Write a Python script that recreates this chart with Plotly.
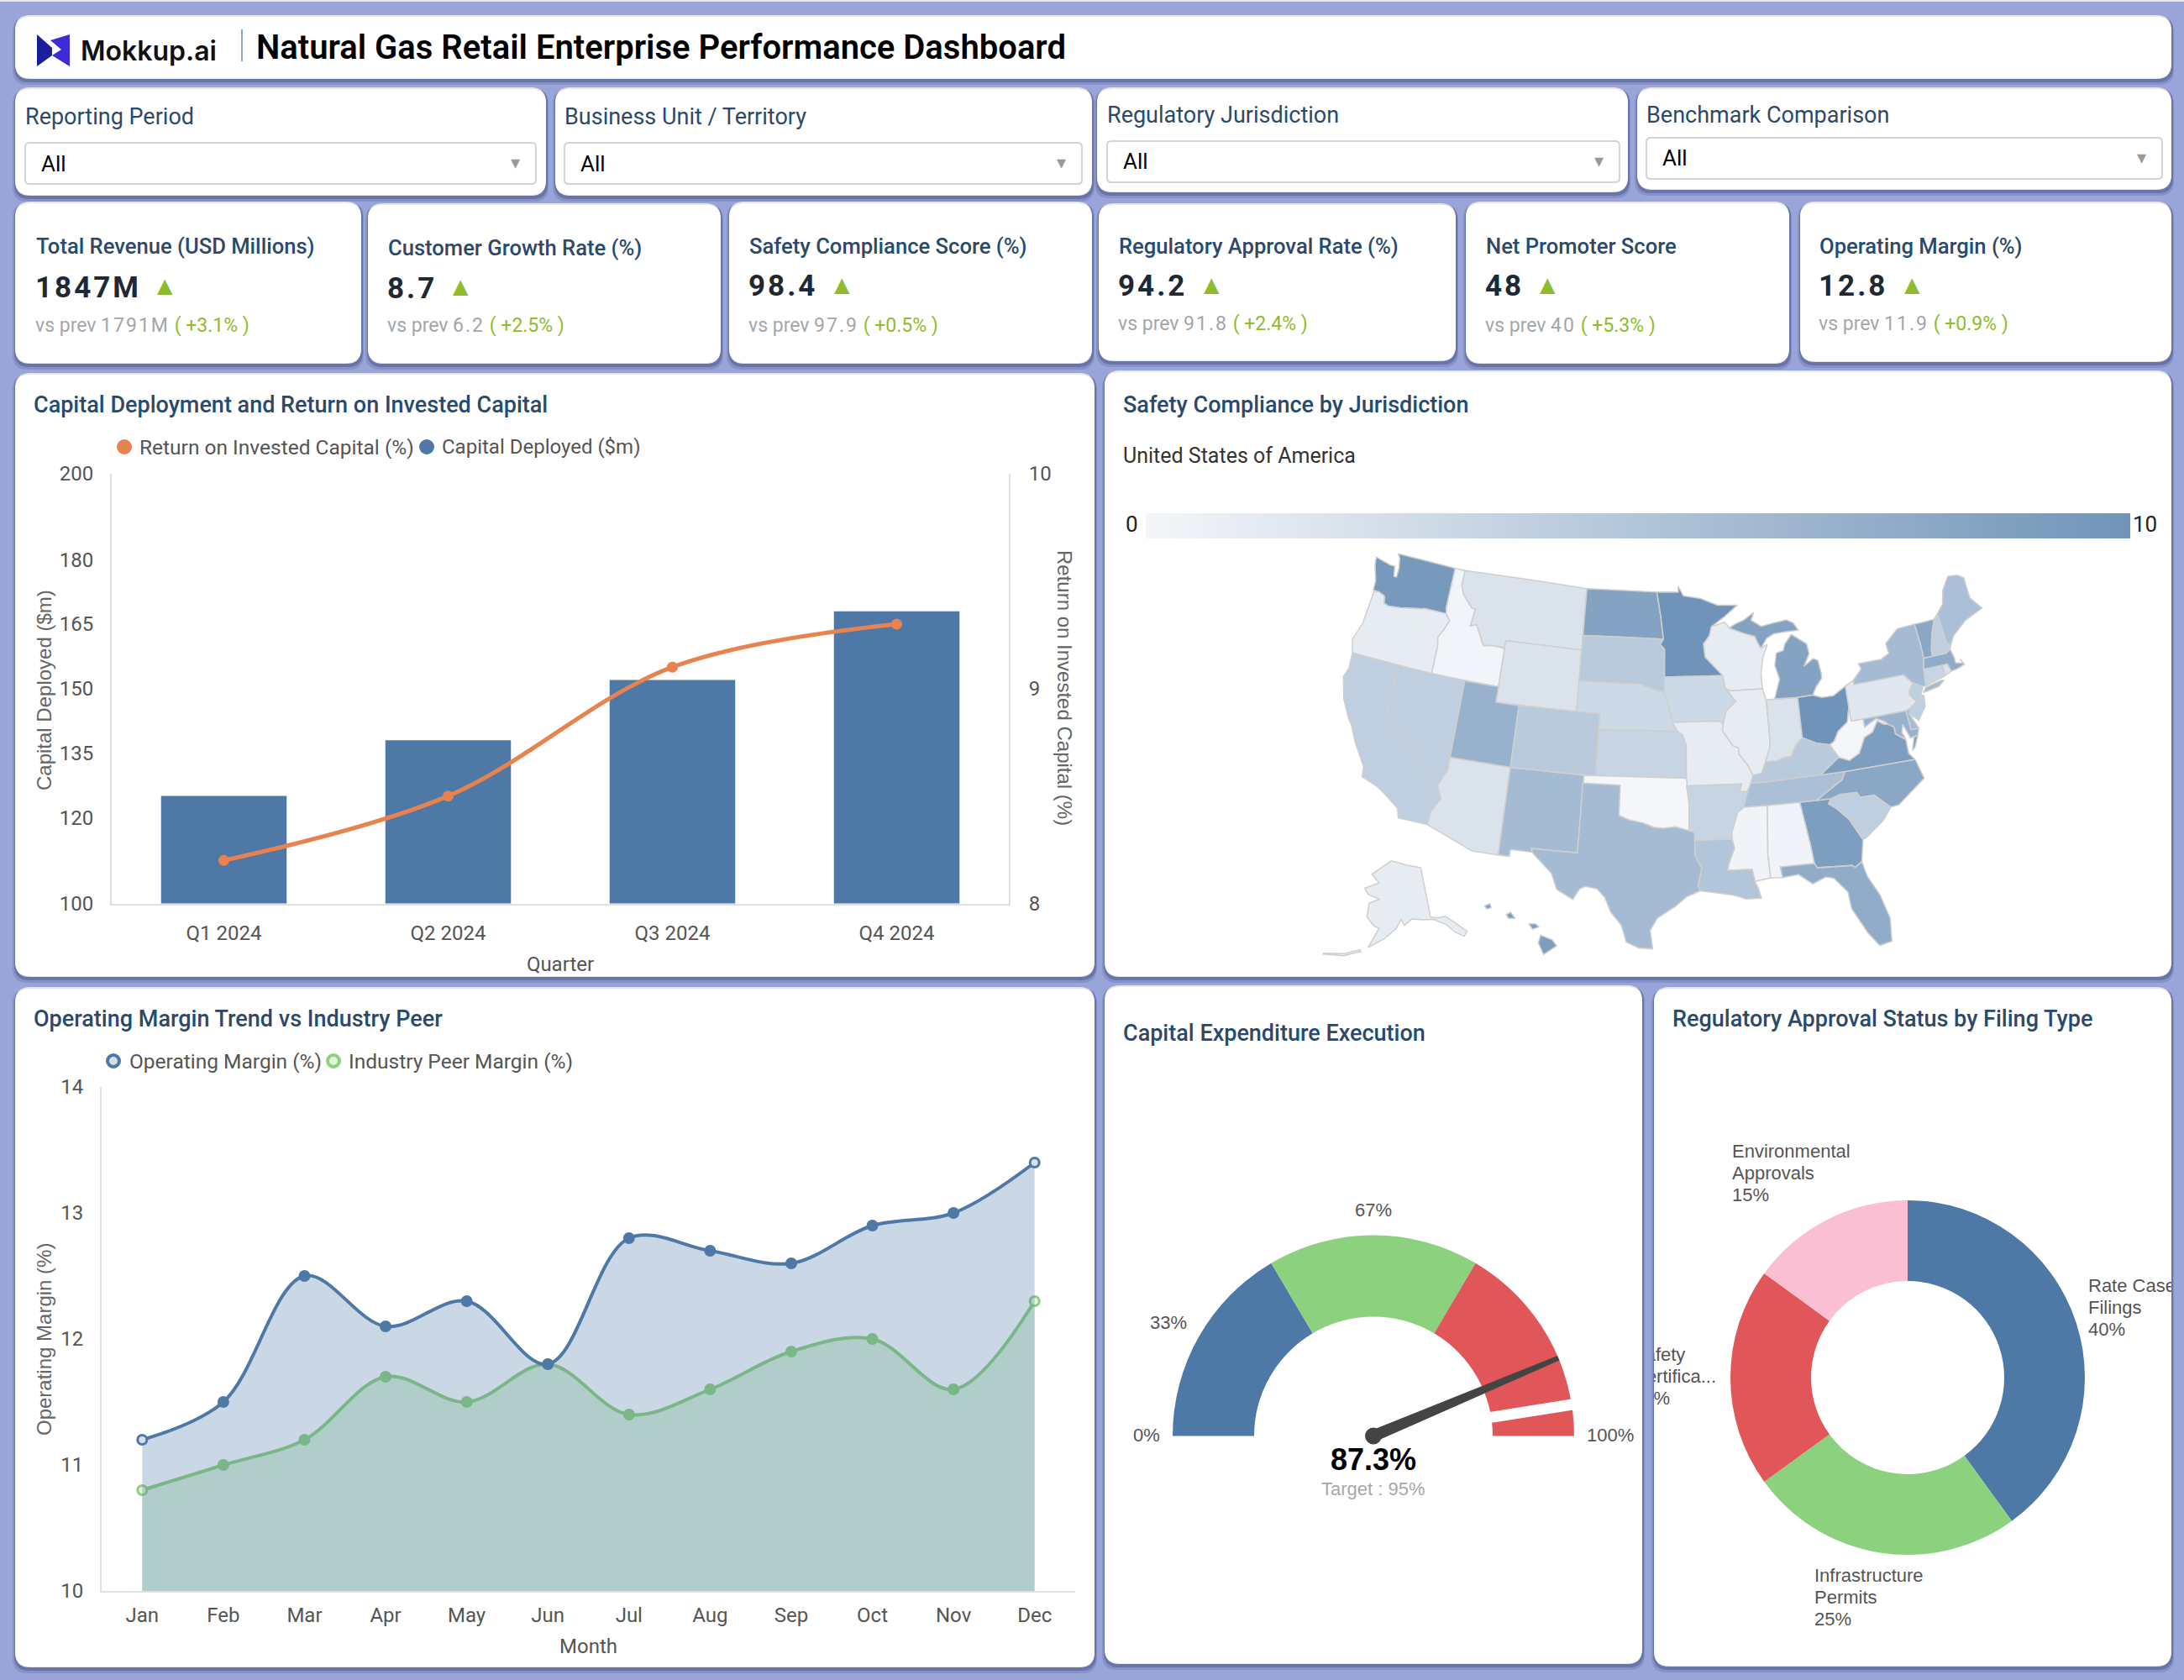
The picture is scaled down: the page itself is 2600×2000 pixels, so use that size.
import math
import plotly.graph_objects as go
from plotly.colors import sample_colorscale

W, H = 2600, 2000
BLUE, GREEN, RED, PINK, ORANGE = "#4e79a7", "#8cd17d", "#e15759", "#fabfd2", "#e8834f"
NAVY = "#2b4a6b"
FONT = "Roboto"
ARIAL = "Liberation Sans"

# data
filter_names = ["Reporting Period", "Business Unit / Territory", "Regulatory Jurisdiction", "Benchmark Comparison"]
kpi_names = ["Total Revenue (USD Millions)", "Customer Growth Rate (%)", "Safety Compliance Score (%)",
             "Regulatory Approval Rate (%)", "Net Promoter Score", "Operating Margin (%)"]
kpi_values = ["1847M", "8.7", "98.4", "94.2", "48", "12.8"]
kpi_prev = ["1791M", "6.2", "97.9", "91.8", "40", "11.9"]
kpi_delta = ["+3.1%", "+2.5%", "+0.5%", "+2.4%", "+5.3%", "+0.9%"]

quarters = ["Q1 2024", "Q2 2024", "Q3 2024", "Q4 2024"]
capital_deployed = [125, 138, 152, 168]
roic = [8.2, 8.5, 9.1, 9.3]

months = ["Jan", "Feb", "Mar", "Apr", "May", "Jun", "Jul", "Aug", "Sep", "Oct", "Nov", "Dec"]
op_margin = [11.2, 11.5, 12.5, 12.1, 12.3, 11.8, 12.8, 12.7, 12.6, 12.9, 13.0, 13.4]
peer_margin = [10.8, 11.0, 11.2, 11.7, 11.5, 11.8, 11.4, 11.6, 11.9, 12.0, 11.6, 12.3]

states = ["WA", "OR", "ID", "MT", "WY", "ND", "SD", "NE", "KS", "MN", "IA", "MO", "WI", "IL", "IN", "MI", "OH",
          "KY", "TN", "MS", "AL", "GA", "FL", "SC", "NC", "VA", "WV", "MD", "DE", "PA", "NJ", "NY", "CT", "RI",
          "MA", "VT", "NH", "ME", "CA", "NV", "UT", "AZ", "NM", "CO", "TX", "OK", "AR", "LA", "AK", "HI"]
state_scores = [9.5, 1, 0.2, 2, 2, 8.5, 4.5, 3, 3.5, 10, 3, 1, 1, 1, 2, 8.5, 10,
                4.5, 5.5, 0.3, 0.3, 9, 7.5, 4, 8, 9, 0, 7, 6, 1.5, 4, 6, 3.5, 2,
                7.5, 8, 4, 5.5, 4, 4, 7, 2, 6, 4.5, 6, 0, 3.5, 5, 1, 9]

capex_bands = [33, 34, 33]
capex_ticks = [0, 33, 67, 100]
capex_actual = 87.3
capex_target = 95

filing_types = ["Rate Case Filings", "Infrastructure Permits", "Safety Certifica...", "Environmental Approvals"]
filing_share = [40, 25, 20, 15]

# rough state outlines (lon, lat): the usual topojson needs the network
state_rings = {
    "WA": [[(-124.7, 48.38), (-123.2, 48.15), (-122.75, 48.15), (-122.55, 47.5), (-122.3, 47.5), (-122.3, 48.1), (-122.5, 48.75), (-122.76, 49), (-117.03, 49), (-117.04, 46.42), (-116.92, 45.99), (-118.98, 46), (-119.3, 45.93), (-121.2, 45.65), (-122.3, 45.55), (-122.75, 45.65), (-122.9, 46.1), (-123.5, 46.26), (-124.05, 46.27), (-124.1, 46.9), (-124.6, 47.9)]],
    "OR": [[(-124.55, 42.85), (-124.2, 42), (-117.03, 42), (-117.03, 43.83), (-117.2, 44.4), (-116.85, 44.9), (-116.46, 45.6), (-116.92, 45.99), (-118.98, 46), (-119.3, 45.93), (-121.2, 45.65), (-122.3, 45.55), (-122.75, 45.65), (-122.9, 46.1), (-123.5, 46.26), (-123.95, 46.2), (-124.1, 44)]],
    "ID": [[(-117.03, 49), (-116.05, 49), (-116.05, 48), (-115.7, 47.45), (-114.7, 46.7), (-114.35, 46.65), (-114.5, 45.55), (-113.95, 45.7), (-113.45, 45.05), (-113, 44.45), (-112.3, 44.55), (-111.5, 44.55), (-111.05, 44.48), (-111.05, 42), (-117.03, 42), (-117.03, 43.83), (-117.2, 44.4), (-116.85, 44.9), (-116.46, 45.6), (-116.92, 45.99), (-117.04, 46.42)]],
    "MT": [[(-116.05, 49), (-104.05, 49), (-104.05, 45), (-111.05, 45), (-111.05, 44.48), (-111.5, 44.55), (-112.3, 44.55), (-113, 44.45), (-113.45, 45.05), (-113.95, 45.7), (-114.5, 45.55), (-114.35, 46.65), (-114.7, 46.7), (-115.7, 47.45), (-116.05, 48)]],
    "WY": [[(-111.05, 45), (-104.05, 45), (-104.05, 41), (-111.05, 41)]],
    "ND": [[(-104.05, 49), (-97.23, 49), (-96.85, 47.5), (-96.56, 45.94), (-104.05, 45.94)]],
    "SD": [[(-104.05, 45.94), (-96.56, 45.94), (-96.85, 45.6), (-96.45, 45.3), (-96.45, 42.5), (-97.9, 42.8), (-98.5, 43), (-104.05, 43)]],
    "NE": [[(-104.05, 43), (-98.5, 43), (-97.9, 42.8), (-96.45, 42.5), (-96.1, 41.7), (-95.85, 41), (-95.31, 40), (-102.05, 40), (-102.05, 41), (-104.05, 41)]],
    "KS": [[(-102.05, 40), (-95.31, 40), (-94.9, 39.8), (-94.6, 39.1), (-94.62, 37), (-102.05, 37)]],
    "MN": [[(-97.23, 49), (-95.15, 49), (-95.15, 49.38), (-94.65, 48.75), (-93, 48.55), (-91.4, 48.07), (-89.5, 48), (-90.8, 47.3), (-92.05, 46.7), (-92.3, 46.1), (-92.85, 45.6), (-92.75, 44.75), (-91.22, 43.5), (-96.45, 43.5), (-96.45, 45.3), (-96.85, 45.6), (-96.56, 45.94), (-96.85, 47.5)]],
    "IA": [[(-96.45, 43.5), (-91.22, 43.5), (-91.1, 42.7), (-90.2, 41.8), (-91.1, 41.2), (-91.4, 40.4), (-91.75, 40.6), (-95.77, 40.58), (-95.85, 41), (-96.1, 41.7), (-96.45, 42.5)]],
    "MO": [[(-95.77, 40.58), (-91.75, 40.6), (-91.4, 40.4), (-91.5, 40), (-90.7, 39), (-90.2, 38.8), (-90.2, 38.4), (-89.55, 37.7), (-89.15, 37), (-89.4, 36.5), (-89.7, 36), (-90.35, 36), (-90.15, 36.5), (-94.62, 36.5), (-94.62, 37), (-94.6, 39.1), (-94.9, 39.8), (-95.31, 40)]],
    "WI": [[(-92.05, 46.7), (-90.8, 46.95), (-90.4, 46.55), (-89.1, 46.15), (-88.1, 45.9), (-87.8, 45.35), (-87.6, 45.1), (-87, 45.3), (-87.5, 44.5), (-87.8, 43.5), (-87.8, 42.49), (-90.65, 42.5), (-91.1, 42.7), (-91.22, 43.5), (-92.75, 44.75), (-92.85, 45.6), (-92.3, 46.1)]],
    "IL": [[(-90.65, 42.5), (-87.8, 42.49), (-87.55, 41.7), (-87.53, 39.35), (-87.6, 38.7), (-88.05, 37.8), (-88.45, 37.1), (-89.15, 37), (-89.55, 37.7), (-90.2, 38.4), (-90.2, 38.8), (-90.7, 39), (-91.5, 40), (-91.4, 40.4), (-91.1, 41.2), (-90.2, 41.8), (-91.1, 42.7)]],
    "IN": [[(-87.53, 41.75), (-87, 41.75), (-84.8, 41.7), (-84.8, 39.1), (-85.4, 38.7), (-85.9, 38), (-86.5, 37.95), (-87.1, 37.8), (-88.05, 37.8), (-87.6, 38.7), (-87.53, 39.35)]],
    "MI": [[(-86.8, 41.76), (-84.8, 41.7), (-83.45, 41.73), (-83.1, 42.2), (-82.5, 42.7), (-82.45, 43), (-82.6, 43.9), (-83, 44.05), (-83.9, 43.65), (-83.3, 44.4), (-83.4, 45.05), (-84.7, 45.78), (-85.4, 45.2), (-85.6, 44.8), (-86.25, 44.7), (-86.5, 43.9), (-86.2, 43), (-86.6, 42.2)],
           [(-90.4, 46.55), (-89.1, 46.15), (-88.1, 45.9), (-87.8, 45.35), (-87.6, 45.1), (-87, 45.7), (-86.3, 45.95), (-85, 46), (-84, 46), (-84.4, 46.5), (-85, 46.75), (-86.2, 46.65), (-87.4, 46.5), (-88.3, 46.95), (-88, 47.45), (-89, 47), (-89.8, 46.8)]],
    "OH": [[(-84.8, 41.7), (-83.45, 41.73), (-82.7, 41.5), (-81.7, 41.5), (-80.52, 42), (-80.52, 40.64), (-80.85, 39.7), (-81.75, 39.2), (-82.2, 38.6), (-82.6, 38.42), (-83.7, 38.65), (-84.8, 39.1)]],
    "KY": [[(-89.4, 36.5), (-89.15, 37), (-88.45, 37.1), (-88.05, 37.8), (-87.1, 37.8), (-86.5, 37.95), (-85.9, 38), (-85.4, 38.7), (-84.8, 39.1), (-83.7, 38.65), (-82.6, 38.42), (-82, 37.55), (-83.67, 36.6), (-88.07, 36.5)]],
    "TN": [[(-89.4, 36.5), (-88.07, 36.5), (-83.67, 36.6), (-81.68, 36.59), (-82, 36.1), (-84.3, 35), (-85.6, 35), (-88.2, 35), (-90.1, 35), (-89.7, 36)]],
    "MS": [[(-90.1, 35), (-88.2, 35), (-88.47, 31.9), (-88.4, 30.35), (-89.6, 30.2), (-89.75, 31), (-91.6, 31), (-91.5, 31.4), (-91, 32.4), (-91.15, 33), (-91.15, 33.4), (-90.6, 34.7)]],
    "AL": [[(-88.2, 35), (-85.6, 35), (-85.15, 32.3), (-85, 31), (-87.6, 31), (-87.5, 30.3), (-88.4, 30.35), (-88.47, 31.9)]],
    "GA": [[(-85.6, 35), (-83.1, 35), (-83.35, 34.7), (-82.75, 34.3), (-81.9, 33.5), (-81.1, 32.1), (-81.45, 30.7), (-82, 30.4), (-82.2, 30.55), (-84.85, 30.7), (-85, 31), (-85.15, 32.3)]],
    "FL": [[(-87.5, 30.3), (-87.6, 31), (-85, 31), (-84.85, 30.7), (-82.2, 30.55), (-82, 30.4), (-81.45, 30.7), (-81.2, 29.7), (-80.5, 28.4), (-80.05, 26.8), (-80.2, 25.3), (-81.1, 25.15), (-81.8, 26.1), (-82.7, 27.8), (-82.8, 28.9), (-83.7, 29.9), (-84.3, 30.05), (-85.3, 29.7), (-86.3, 30.4)]],
    "SC": [[(-83.35, 34.7), (-83.1, 35), (-82.3, 35.2), (-81, 35.15), (-80.8, 34.82), (-79.67, 34.8), (-78.55, 33.86), (-79.3, 33.1), (-80.8, 32.2), (-81.1, 32.1), (-81.9, 33.5), (-82.75, 34.3)]],
    "NC": [[(-84.3, 35), (-83.1, 35), (-82.3, 35.2), (-81, 35.15), (-80.8, 34.82), (-79.67, 34.8), (-78.55, 33.86), (-77.9, 33.9), (-76.5, 34.7), (-75.5, 35.25), (-75.9, 36.55), (-81.68, 36.59), (-82, 36.1)]],
    "VA": [[(-83.67, 36.6), (-81.68, 36.59), (-75.9, 36.55), (-76.3, 37), (-76.3, 37.9), (-77.05, 38.4), (-77.05, 38.85), (-77.5, 39.1), (-77.85, 39.15), (-78.35, 39.45), (-78.9, 38.8), (-79.65, 38.55), (-80.3, 37.6), (-81.2, 37.25), (-82, 37.55)],
           [(-75.95, 37.15), (-75.6, 37.95), (-75.25, 38.03), (-75.7, 37.3)]],
    "WV": [[(-82.6, 38.42), (-82, 37.55), (-81.2, 37.25), (-80.3, 37.6), (-79.65, 38.55), (-78.9, 38.8), (-78.35, 39.45), (-77.85, 39.15), (-77.75, 39.33), (-78.4, 39.62), (-79.48, 39.2), (-79.48, 39.72), (-80.52, 39.72), (-80.52, 40.64), (-80.85, 39.7), (-81.75, 39.2), (-82.2, 38.6)]],
    "MD": [[(-79.48, 39.72), (-75.79, 39.72), (-75.7, 38.46), (-75.05, 38.45), (-75.25, 38.03), (-75.9, 37.95), (-76.3, 38.9), (-76.5, 38.4), (-76.3, 37.95), (-77.05, 38.4), (-77.05, 38.85), (-77.5, 39.1), (-77.75, 39.33), (-78.4, 39.62), (-79.48, 39.2)]],
    "DE": [[(-75.79, 39.72), (-75.41, 39.8), (-75.55, 39.45), (-75.05, 38.45), (-75.7, 38.46)]],
    "PA": [[(-80.52, 42), (-79.76, 42.27), (-79.76, 42), (-75.35, 42), (-74.7, 41.36), (-75.1, 40.95), (-75.2, 40.65), (-74.72, 40.15), (-75.41, 39.8), (-75.79, 39.72), (-80.52, 39.72)]],
    "NJ": [[(-74.7, 41.36), (-73.9, 41), (-74.25, 40.5), (-74, 40.4), (-74.1, 39.75), (-74.9, 38.95), (-75.55, 39.45), (-75.41, 39.8), (-74.72, 40.15), (-75.2, 40.65), (-75.1, 40.95)]],
    "NY": [[(-79.76, 42.27), (-78.9, 42.9), (-79.05, 43.27), (-77, 43.27), (-76.2, 43.55), (-76.3, 44.2), (-75, 44.98), (-73.35, 45.01), (-73.25, 43.6), (-73.27, 42.75), (-73.5, 42.05), (-73.65, 41), (-73.9, 41), (-74.7, 41.36), (-75.35, 42), (-79.76, 42)],
           [(-74, 40.6), (-73.7, 40.9), (-72.3, 41.1), (-72, 41.05), (-72.6, 40.75)]],
    "CT": [[(-73.5, 42.05), (-71.8, 42.02), (-71.85, 41.32), (-73.65, 41)]],
    "RI": [[(-71.8, 42.02), (-71.38, 42.02), (-71.2, 41.5), (-71.85, 41.32)]],
    "MA": [[(-73.5, 42.05), (-73.27, 42.75), (-71.3, 42.7), (-70.8, 42.87), (-70.65, 42.3), (-70.65, 41.95), (-70, 41.8), (-70.2, 42.08), (-69.95, 41.7), (-70.65, 41.55), (-71.2, 41.5), (-71.38, 42.02), (-71.8, 42.02)]],
    "VT": [[(-73.35, 45.01), (-71.5, 45.01), (-72.05, 44.1), (-72.45, 43.1), (-72.46, 42.73), (-73.27, 42.75), (-73.25, 43.6)]],
    "NH": [[(-71.5, 45.01), (-71.08, 45.3), (-70.98, 43.4), (-70.7, 43.07), (-70.8, 42.87), (-71.3, 42.7), (-72.46, 42.73), (-72.45, 43.1), (-72.05, 44.1)]],
    "ME": [[(-71.08, 45.3), (-70.4, 45.8), (-70, 46.7), (-69.2, 47.45), (-68.3, 47.35), (-67.8, 47.07), (-67.8, 45.7), (-67, 44.85), (-68.8, 44.4), (-70.2, 43.65), (-70.7, 43.07), (-70.98, 43.4)]],
    "CA": [[(-124.2, 42), (-120, 42), (-120, 39), (-114.6, 35.1), (-114.15, 34.27), (-114.72, 33.4), (-114.8, 32.5), (-117.1, 32.53), (-117.3, 33.1), (-118.4, 33.75), (-119.2, 34.15), (-120.6, 34.55), (-120.7, 35.2), (-121.9, 36.6), (-122.5, 37.5), (-123, 38), (-123.75, 39), (-124.35, 40.4), (-124.1, 41)]],
    "NV": [[(-120, 42), (-114.05, 42), (-114.05, 36.2), (-114.6, 35.1), (-120, 39)]],
    "UT": [[(-114.05, 42), (-111.05, 42), (-111.05, 41), (-109.05, 41), (-109.05, 37), (-114.05, 37)]],
    "AZ": [[(-114.05, 37), (-109.05, 37), (-109.05, 31.33), (-111.07, 31.33), (-114.8, 32.5), (-114.72, 33.4), (-114.15, 34.27), (-114.6, 35.1), (-114.05, 36.2)]],
    "NM": [[(-109.05, 37), (-103, 37), (-103.06, 32), (-106.62, 32), (-106.53, 31.78), (-108.2, 31.78), (-108.2, 31.33), (-109.05, 31.33)]],
    "CO": [[(-109.05, 41), (-102.05, 41), (-102.05, 37), (-109.05, 37)]],
    "TX": [[(-106.62, 32), (-103.06, 32), (-103.04, 36.5), (-100, 36.5), (-100, 34.56), (-99.2, 34.3), (-98.1, 34.13), (-97.2, 33.85), (-96.5, 33.8), (-95.5, 33.9), (-94.48, 33.64), (-94.04, 33.55), (-94.04, 32), (-93.55, 31.2), (-93.85, 30.1), (-93.7, 29.75), (-94.7, 29.4), (-95.6, 28.75), (-96.9, 28), (-97.4, 27.2), (-97.2, 26), (-98.2, 26.05), (-99.1, 26.4), (-99.5, 27.5), (-100.3, 28.3), (-100.8, 29.25), (-101.4, 29.77), (-102.3, 29.88), (-102.7, 29.7), (-103.15, 28.98), (-104.4, 29.55), (-104.9, 30.55), (-106.5, 31.75)]],
    "OK": [[(-103, 37), (-94.62, 37), (-94.43, 35.4), (-94.48, 33.64), (-95.5, 33.9), (-96.5, 33.8), (-97.2, 33.85), (-98.1, 34.13), (-99.2, 34.3), (-100, 34.56), (-100, 36.5), (-103, 36.5)]],
    "AR": [[(-94.62, 36.5), (-90.15, 36.5), (-90.35, 36), (-89.7, 36), (-90.1, 35), (-90.6, 34.7), (-91.15, 33.4), (-91.15, 33), (-94.04, 33), (-94.04, 33.55), (-94.48, 33.64), (-94.43, 35.4)]],
    "LA": [[(-94.04, 33), (-91.15, 33), (-91, 32.4), (-91.5, 31.4), (-91.6, 31), (-89.75, 31), (-89.6, 30.2), (-89.4, 29.8), (-89.2, 29.1), (-90.3, 29.1), (-91.3, 29.4), (-92.2, 29.55), (-93.7, 29.75), (-93.85, 30.1), (-93.55, 31.2), (-94.04, 32)]],
    "AK": [[(-141, 69.6), (-141, 60.3), (-139, 59.9), (-135.5, 59.7), (-130, 55.9), (-131.5, 55.2), (-134, 56.5), (-136, 58.2), (-140, 59.7), (-144, 60), (-148, 60.4), (-151, 59.3), (-152, 60.5), (-154, 58.7), (-158, 56.8), (-163, 54.9), (-160, 58.7), (-162, 59), (-165, 60.5), (-165, 63), (-161, 64), (-166, 64.6), (-168, 65.6), (-162, 67), (-166, 68.4), (-156.6, 71.3), (-148, 70.4)],
           [(-176, 51.8), (-170, 52.6), (-165, 54), (-165.5, 54.3), (-170, 53), (-176, 52)]],
    "HI": [[(-155.9, 20.2), (-155.1, 19.9), (-154.8, 19.5), (-155.7, 18.95), (-156.05, 19.7)],
           [(-156.7, 20.95), (-156.25, 20.95), (-156, 20.75), (-156.45, 20.6)],
           [(-158.25, 21.55), (-157.95, 21.7), (-157.65, 21.3), (-158.1, 21.3)],
           [(-159.75, 22.1), (-159.4, 22.25), (-159.3, 22), (-159.6, 21.9)]],
}


def px(x):
    return x / W


def py(y):
    return 1 - y / H


def rounded(x0, y0, x1, y1, r):
    a, b, c, d = px(x0), py(y0), px(x1), py(y1)
    rx, ry = r / W, r / H
    return (f"M{a + rx},{b} L{c - rx},{b} Q{c},{b} {c},{b - ry} L{c},{d + ry} Q{c},{d} {c - rx},{d} "
            f"L{a + rx},{d} Q{a},{d} {a},{d + ry} L{a},{b - ry} Q{a},{b} {a + rx},{b} Z")


def clockwise(ring):
    # d3 reads a counter-clockwise ring as the rest of the globe
    pts = list(ring)
    area = sum((b[0] - a[0]) * (b[1] + a[1]) for a, b in zip(pts, pts[1:] + pts[:1]))
    return pts if area > 0 else pts[::-1]


shapes = []
annotations = []


def add_path(path, fill, layer="below", line_color=None, line_width=0):
    shapes.append(dict(type="path", path=path, xref="paper", yref="paper", fillcolor=fill, layer=layer,
                       line=dict(color=line_color or "rgba(0,0,0,0)", width=line_width)))


def card(x0, y0, x1, y1, r=18):
    add_path(rounded(x0 - 3, y0 + 2, x1 + 3, y1 + 7, r), "rgba(70,80,135,0.22)")
    add_path(rounded(x0 - 1, y0 + 1, x1 + 2, y1 + 4, r), "rgba(70,80,135,0.45)")
    add_path(rounded(x0, y0, x1, y1, r), "#e6e6e6")
    add_path(rounded(x0, y0 + 2, x1, y1 - 1, r), "#ffffff")


def txt(x, y, text, size, color="#555555", anchor="left", weight=None, family=FONT, angle=0):
    font = dict(family=family, size=size, color=color)
    if weight:
        font["weight"] = weight
    if anchor == "left":
        x -= 1.5
    annotations.append(dict(x=px(x), y=py(y), xref="paper", yref="paper", text=text, showarrow=False, font=font,
                            xanchor=anchor, yanchor="middle", align=anchor, textangle=angle))


def dot(x, y, r, fill, line_color=None, line_width=0, layer="above"):
    shapes.append(dict(type="circle", xref="paper", yref="paper", x0=px(x - r), x1=px(x + r), y0=py(y + r),
                       y1=py(y - r), fillcolor=fill, layer=layer,
                       line=dict(color=line_color or "rgba(0,0,0,0)", width=line_width)))


# top strip and header
shapes.append(dict(type="rect", xref="paper", yref="paper", x0=0, x1=1, y0=py(2), y1=1, fillcolor="#e9e9e9",
                   layer="below", line=dict(width=0)))
card(18, 18, 2585, 94)
add_path(f"M{px(44)},{py(41)} L{px(62)},{py(57)} L{px(62)},{py(66)} L{px(44)},{py(79)} Z", "#1c1f9c")
add_path(f"M{px(83)},{py(41)} L{px(83)},{py(79)} L{px(62)},{py(66)} L{px(73)},{py(59)} L{px(60)},{py(48)} Z", "#3d2bd8")
txt(95, 60, "Mokkup.ai", 32, "#111111", weight=600, family="Inter")
shapes.append(dict(type="line", xref="paper", yref="paper", x0=px(288), x1=px(288), y0=py(35), y1=py(73),
                   line=dict(color="#8fa6c4", width=2), layer="below"))
txt(304.5, 56, "Natural Gas Retail Enterprise Performance Dashboard", 40, "#000000", weight=600)

# filter cards
filter_cards = [(18, 104, 650, 233), (661, 104, 1300, 233), (1306, 104, 1938, 229), (1949, 104, 2585, 226)]
filter_boxes = [(30, 170, 638, 219), (672, 170, 1288, 219), (1318, 168, 1928, 217), (1960, 164, 2574, 213)]
filter_title_y = [139, 139, 137, 137]
for name, c, b, ty in zip(filter_names, filter_cards, filter_boxes, filter_title_y):
    card(*c)
    txt(b[0] - 1, ty, name, 27, NAVY)
    add_path(rounded(*b, 5), "#ffffff", line_color="#d4d4d4", line_width=2)
    txt(b[0] + 18, (b[1] + b[3]) / 2, "All", 26, "#000000")
    txt(b[2] - 25, (b[1] + b[3]) / 2 - 1, "▾", 22, "#9a9a9a", anchor="center", family="DejaVu Sans")

# kpi cards
kpi_cards = [(18, 240, 430, 433), (438, 242, 858, 433), (868, 240, 1300, 433),
             (1308, 242, 1733, 430), (1745, 240, 2130, 433), (2143, 240, 2585, 431)]
kpi_x = [41, 460, 890, 1330, 1767, 2164]
kpi_tri = [196, 548, 1002, 1442, 1843, 2276]
kpi_title_y = [293, 295, 293, 293, 293, 293]
kpi_value_y = [342, 343, 341, 341, 341, 341]
kpi_sub_y = [387, 387, 387, 385, 387, 385]
for i, c in enumerate(kpi_cards):
    card(*c)
    txt(kpi_x[i] + 1, kpi_title_y[i], kpi_names[i], 25.6, NAVY, weight=500)
    txt(kpi_x[i], kpi_value_y[i], f"<span style='letter-spacing:3px'>{kpi_values[i]}</span>", 35, "#1f2933", weight=700)
    txt(kpi_tri[i], kpi_value_y[i] - 2, "▲", 24, "#8fbc2e", anchor="center", family="DejaVu Sans")
    txt(kpi_x[i], kpi_sub_y[i], f"vs prev <span style='letter-spacing:2px'>{kpi_prev[i]}</span> "
        f"<span style='color:#8fbc2e'>( {kpi_delta[i]} )</span>", 23, "#a3a6ab")

# chart cards
card(18, 444, 1303, 1163)
card(1315, 441, 2585, 1163)
card(18, 1175, 1303, 1985)
card(1315, 1173, 1955, 1981)
card(1969, 1175, 2585, 1984)
txt(39, 482, "Capital Deployment and Return on Invested Capital", 27, NAVY, weight=500)
txt(1336.5, 482, "Safety Compliance by Jurisdiction", 27, NAVY, weight=500)
txt(39, 1213, "Operating Margin Trend vs Industry Peer", 27, NAVY, weight=500)
txt(1336.5, 1230, "Capital Expenditure Execution", 27, NAVY, weight=500)
txt(1990, 1213, "Regulatory Approval Status by Filing Type", 27, NAVY, weight=500)

# legends drawn by hand, echarts style
dot(148, 532, 9, ORANGE)
txt(165, 532, "Return on Invested Capital (%)", 24.5)
dot(508, 532, 9, BLUE)
txt(525, 532, "Capital Deployed ($m)", 24)
dot(135, 1263, 7, "#d5e0ea", BLUE, 4)
txt(153, 1263, "Operating Margin (%)", 24.5)
dot(397, 1263, 7, "#e2f3de", GREEN, 4)
txt(414, 1263, "Industry Peer Margin (%)", 24.5)

fig = go.Figure()

# capital bars and roic line
fig.add_trace(go.Bar(x=quarters, y=capital_deployed, marker=dict(color=BLUE, line=dict(width=0)), xaxis="x", yaxis="y",
                     name="Capital Deployed ($m)"))
fig.add_trace(go.Scatter(x=quarters, y=roic, mode="lines+markers", line=dict(color=ORANGE, width=5, shape="spline"),
                         marker=dict(size=13, color=ORANGE), xaxis="x", yaxis="y2",
                         name="Return on Invested Capital (%)"))

# margin areas
fig.add_trace(go.Scatter(x=months, y=peer_margin, mode="lines+markers", fill="tozeroy", fillcolor="rgba(140,209,125,0.3)",
                         line=dict(color=GREEN, width=4, shape="spline"),
                         marker=dict(size=11, color=["#e2f3de"] + [GREEN] * 10 + ["#e2f3de"], line=dict(color=GREEN, width=3)),
                         xaxis="x3", yaxis="y3", name="Industry Peer Margin (%)"))
fig.add_trace(go.Scatter(x=months, y=op_margin, mode="lines+markers", fill="tozeroy", fillcolor="rgba(78,121,167,0.3)",
                         line=dict(color=BLUE, width=4, shape="spline"),
                         marker=dict(size=11, color=["#d5e0ea"] + [BLUE] * 10 + ["#d5e0ea"], line=dict(color=BLUE, width=3)),
                         xaxis="x3", yaxis="y3", name="Operating Margin (%)"))

# map: filled outlines on a geo subplot, coloured from the scores
map_scale = [[0, "#f4f6f9"], [1, "#7094b9"]]
for code, score in zip(states, state_scores):
    colour = sample_colorscale(map_scale, score / 10)[0]
    for ring in state_rings[code]:
        pts = clockwise(ring)
        fig.add_trace(go.Scattergeo(lon=[p[0] for p in pts] + [pts[0][0]], lat=[p[1] for p in pts] + [pts[0][1]],
                                    mode="lines", fill="toself", fillcolor=colour,
                                    line=dict(color="#cfcfcf", width=1.5), name=code, text=f"{code}: {score}",
                                    hoverinfo="text", showlegend=False))
fig.add_trace(go.Scattergeo(lon=[state_rings[c][0][0][0] for c in states], lat=[state_rings[c][0][0][1] for c in states],
                            mode="markers", hoverinfo="skip", showlegend=False,
                            marker=dict(size=1, opacity=0, color=state_scores, cmin=0, cmax=10, colorscale=map_scale,
                                        showscale=True,
                                        colorbar=dict(orientation="h", x=px(1364), xanchor="left", y=py(641), yanchor="bottom",
                                                      len=(2536 - 1364) / W, lenmode="fraction", thickness=30,
                                                      thicknessmode="pixels", showticklabels=False, ticks="",
                                                      outlinewidth=0, xpad=0, ypad=0))))
txt(1347, 624, "0", 26, "#222222", anchor="center")
txt(2553, 624, "10", 26, "#222222", anchor="center")
txt(1336.5, 542, "United States of America", 25, "#333333")

# gauge
gcx, gcy, gR, gr = 1635, 1709.5, 239, 142
fig.add_trace(go.Pie(values=capex_bands + [sum(capex_bands)], sort=False, direction="clockwise", rotation=270,
                     hole=gr / gR, textinfo="none", hoverinfo="skip", showlegend=False,
                     marker=dict(colors=[BLUE, GREEN, RED, "rgba(0,0,0,0)"], line=dict(width=0)),
                     domain=dict(x=[px(gcx - gR), px(gcx + gR)], y=[py(gcy + gR), py(gcy - gR)])))


def gauge_point(pct, rad):
    a = math.pi * (1 - pct / 100)
    return gcx + rad * math.cos(a), gcy - rad * math.sin(a)


tx0, ty0 = gauge_point(capex_target, gr - 3)
tx1, ty1 = gauge_point(capex_target, gR + 4)
shapes.append(dict(type="line", xref="paper", yref="paper", x0=px(tx0), y0=py(ty0), x1=px(tx1), y1=py(ty1),
                   line=dict(color="#ffffff", width=13), layer="above"))
tipx, tipy = gauge_point(capex_actual, gR)
ang = math.pi * (1 - capex_actual / 100)
nx, ny = math.sin(ang), math.cos(ang)
add_path(f"M{px(gcx - nx * 7)},{py(gcy - ny * 7)} L{px(tipx - nx * 3)},{py(tipy - ny * 3)} "
         f"L{px(tipx + nx * 3)},{py(tipy + ny * 3)} L{px(gcx + nx * 7)},{py(gcy + ny * 7)} Z", "#444444", layer="above")
dot(gcx, gcy, 10, "#444444")
for pct, lx, ly in zip(capex_ticks, [1365, 1391, 1635, 1917], [1708, 1574, 1440, 1708]):
    txt(lx, ly, f"{pct}%", 22, anchor="center", family=ARIAL)
txt(gcx, 1737, f"{capex_actual}%", 36, "#000000", anchor="center", weight=700, family=ARIAL)
txt(gcx, 1772, f"Target : {capex_target}%", 22, "#a8a8a8", anchor="center", family=ARIAL)

# donut
dcx, dcy, dR = 2271, 1640, 211
fig.add_trace(go.Pie(labels=filing_types, values=filing_share, sort=False, direction="clockwise", rotation=0,
                     hole=115 / 211, textinfo="none", showlegend=False,
                     marker=dict(colors=[BLUE, GREEN, RED, PINK], line=dict(width=0)),
                     domain=dict(x=[px(dcx - dR), px(dcx + dR)], y=[py(dcy + dR), py(dcy - dR)])))
# labels go on a hidden subplot so they clip at the card edge
label_x = [2486, 2160, 1944, 2062]
label_y = [1532, 1877, 1614, 1372]
lab_x, lab_y, lab_t = [], [], []
for lx, ly, name, share in zip(label_x, label_y, filing_types, filing_share):
    parts = name.rsplit(" ", 1) + [f"{share}%"]
    for k, part in enumerate(parts):
        lab_x.append(lx)
        lab_y.append(ly + k * 26)
        lab_t.append(part)
fig.add_trace(go.Scatter(x=lab_x, y=lab_y, text=lab_t, mode="text", textposition="middle right", cliponaxis=True,
                         textfont=dict(family=ARIAL, size=22, color="#555555"), xaxis="x4", yaxis="y4",
                         hoverinfo="skip", showlegend=False))

tick_font = dict(family=FONT, size=24, color="#555555")
axis_line = dict(showline=True, linecolor="#e0e0e0", linewidth=2, showgrid=False, zeroline=False, ticks="outside",
                 tickcolor="rgba(0,0,0,0)")

# y titles as annotations, axis standoff can't get them close enough
txt(52, 822, "Capital Deployed ($m)", 24, "#666666", anchor="center", family=ARIAL, angle=-90)
txt(1268, 819, "Return on Invested Capital (%)", 24, "#666666", anchor="center", family=ARIAL, angle=90)
txt(52, 1595, "Operating Margin (%)", 24, "#666666", anchor="center", family=ARIAL, angle=-90)

fig.update_layout(
    width=W, height=H, margin=dict(l=0, r=0, t=0, b=0, autoexpand=False), paper_bgcolor="#99a5d9",
    plot_bgcolor="rgba(0,0,0,0)", showlegend=False, barmode="overlay", bargap=0.44, font=dict(family=FONT),
    shapes=shapes, annotations=annotations,
    xaxis=dict(domain=[px(133), px(1201)], anchor="y", tickfont=tick_font, ticklen=13,
               title=dict(text="Quarter", font=dict(family=FONT, size=24, color="#555555"), standoff=15), **axis_line),
    yaxis=dict(domain=[py(1075.5), py(564)], anchor="x", range=[100, 200], tickvals=[100, 120, 135, 150, 165, 180, 200],
               tickfont=tick_font, ticklen=15, **axis_line),
    yaxis2=dict(overlaying="y", side="right", anchor="x", range=[8, 10], tickvals=[8, 9, 10], tickfont=tick_font, ticklen=17,
                **axis_line),
    xaxis3=dict(domain=[px(121), px(1280)], anchor="y3", range=[-0.5, 11.5], tickfont=tick_font, ticklen=6,
                title=dict(text="Month", font=dict(family=FONT, size=24, color="#555555"), standoff=15), **axis_line),
    yaxis3=dict(domain=[py(1894), py(1294)], anchor="x3", range=[10, 14], tickvals=[10, 11, 12, 13, 14],
                tickfont=tick_font, ticklen=15, **axis_line),
    xaxis4=dict(domain=[px(1969), px(2585)], anchor="y4", range=[1969, 2585], visible=False, fixedrange=True),
    yaxis4=dict(domain=[py(1984), py(1175)], anchor="x4", range=[1984, 1175], visible=False, fixedrange=True),
    geo=dict(scope="usa", domain=dict(x=[px(1499), px(2459)], y=[py(1184), py(606)]), bgcolor="rgba(0,0,0,0)",
             showlakes=False, showland=False, showocean=False, showrivers=False, showcountries=False,
             showframe=False, showcoastlines=False, showsubunits=False),
)

fig.write_html("out.html", config={"displayModeBar": False}, post_script="document.body.style.margin='0';")
